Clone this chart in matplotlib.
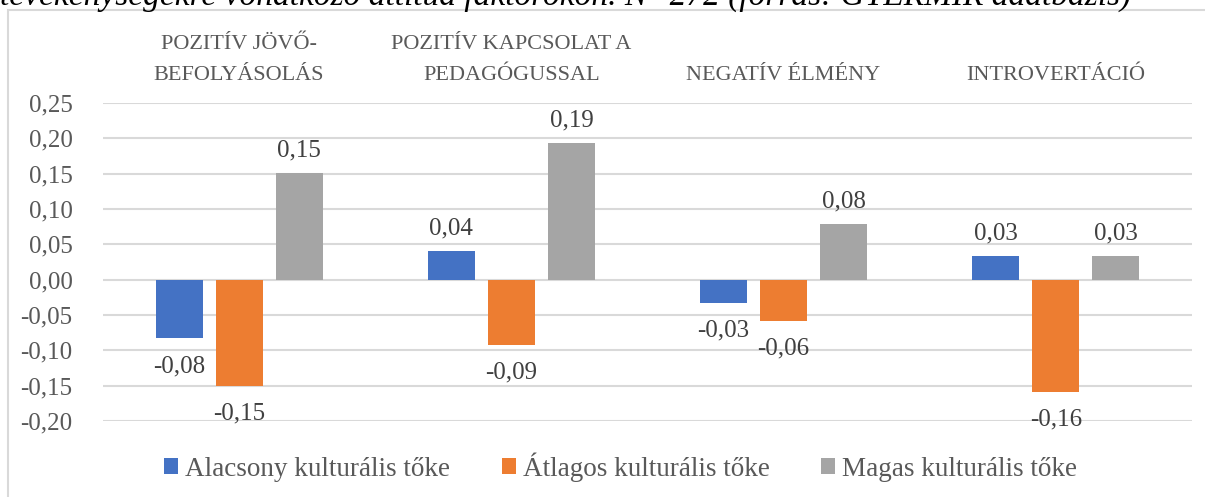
import matplotlib.pyplot as plt
import numpy as np
from matplotlib.patches import Rectangle

plt.rcParams['font.family'] = ['Liberation Serif', 'DejaVu Serif']

categories = ['POZITÍV JÖVŐ-\nBEFOLYÁSOLÁS', 'POZITÍV KAPCSOLAT A\nPEDAGÓGUSSAL',
              'NEGATÍV ÉLMÉNY', 'INTROVERTÁCIÓ']
series_names = ['Alacsony kulturális tőke', 'Átlagos kulturális tőke', 'Magas kulturális tőke']
alacsony = [-0.083, 0.040, -0.033, 0.034]
atlagos = [-0.150, -0.092, -0.058, -0.159]
magas = [0.151, 0.193, 0.079, 0.033]
yticks = [-0.20, -0.15, -0.10, -0.05, 0.00, 0.05, 0.10, 0.15, 0.20, 0.25]
caption = 'tevékenységekre vonatkozó attitűd faktorokon. N=272 (forrás: GYERMIR adatbázis)'

colors = ['#4472C4', '#ED7D31', '#A5A5A5']
txt = '#595959'

fig = plt.figure(figsize=(12.05, 4.97), dpi=100)
ax = fig.add_axes([103 / 1205, 1 - 421 / 497, (1192 - 103) / 1205, (421 - 103) / 497])

x = np.arange(len(categories))
w = 0.1726
step = 0.2204
for k, vals in enumerate([alacsony, atlagos, magas]):
    xs = x + (k - 1) * step
    ax.bar(xs, vals, width=w, color=colors[k], label=series_names[k], zorder=3)
    for xi, v in zip(xs, vals):
        lab = f'{v:.2f}'.replace('.', ',')
        if v >= 0:
            ax.annotate(lab, (xi, v), xytext=(0, 12), textcoords='offset points',
                        ha='center', va='baseline', fontsize=18, color='#404040')
        else:
            ax.annotate(lab, (xi, v), xytext=(0, -12), textcoords='offset points',
                        ha='center', va='top', fontsize=18, color='#404040')

ax.set_xlim(-0.5, 3.5)
ax.set_ylim(-0.2, 0.25)
ax.set_yticks(yticks)
ax.set_yticklabels([f'{t:.2f}'.replace('.', ',') for t in yticks], fontsize=18, color=txt)
ax.tick_params(axis='y', length=0, pad=22)
ax.yaxis.grid(True, color='#D9D9D9', linewidth=1.5, zorder=0)
ax.set_axisbelow(True)

ax.xaxis.tick_top()
ax.set_xticks(x)
ax.set_xticklabels(categories, fontsize=16, color=txt, linespacing=1.85)
ax.tick_params(axis='x', length=0, pad=13)
for s in ax.spines.values():
    s.set_visible(False)

fig.legend(loc='center', bbox_to_anchor=(0.515, 1 - 467 / 497), ncol=3, frameon=False,
           fontsize=19.5, handlelength=0.52, handleheight=0.52, handletextpad=0.25,
           columnspacing=1.9, labelcolor=txt)

fig.patches.append(Rectangle((8 / 1205, -0.1), 1.2, 1.1 - 10 / 497, transform=fig.transFigure,
                             fill=False, edgecolor='#D9D9D9', linewidth=1.5))
fig.text(0.0, 1 - 5 / 497, caption, fontsize=24, style='italic', color='black',
         ha='left', va='baseline')

fig.savefig('out.png', dpi=100)
